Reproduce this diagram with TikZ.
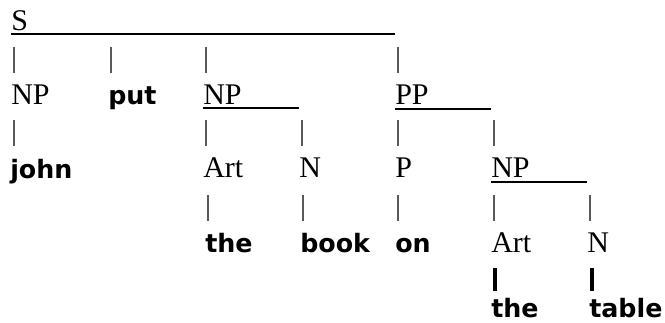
\documentclass[tikz,border=0pt]{standalone}
\usepackage{fontspec}
\setmainfont{Liberation Serif}
\newfontfamily\wordfont{DejaVu Sans}
\usetikzlibrary{calc}
\begin{document}
\begin{tikzpicture}[x=0.75pt,y=-0.75pt,
  cat/.style={anchor=base west,inner sep=0pt,font=\fontsize{22.5}{22.5}\selectfont},
  word/.style={anchor=base west,inner sep=0pt,font=\wordfont\bfseries\fontsize{19}{19}\selectfont},
  bar/.style={line width=1.5pt},
  pipe/.style={draw=black!65,line width=1pt},
  boldpipe/.style={line width=2.8pt}]
\useasboundingbox (0,0) rectangle (665,322);
% labels
\node[cat] (S) at (11,30) {S};
\node[cat] (np1) at (11,104) {NP};
\node[word] (put) at (108,104) {put};
\node[cat] (np2) at (203,104) {NP};
\node[cat] (pp) at (395,104) {PP};
\node[word] (john) at (10,178) {john};
\node[cat] (art1) at (203,177) {Art};
\node[cat] (n1) at (299,177) {N};
\node[cat] (p) at (395,177) {P};
\node[cat] (np3) at (491,177) {NP};
\node[word] (the1) at (205,252) {the};
\node[word] (book) at (300,252) {book};
\node[word] (on) at (395,252) {on};
\node[cat] (art2) at (491,252) {Art};
\node[cat] (n2) at (587,252) {N};
\node[word] (the2) at (491,317) {the};
\node[word] (table) at (589,317) {table};
% underlines
\coordinate (sL) at ($(S.base west)+(0,4)$);
\draw[bar] (sL) -- (sL -| pp.west);
\coordinate (np2L) at ($(np2.base west)+(0,4)$);
\draw[bar] (np2L) -- (np2L -| n1.west);
\coordinate (ppL) at ($(pp.base west)+(0,5)$);
\draw[bar] (ppL) -- (ppL -| np3.west);
\coordinate (np3L) at ($(np3.base west)+(0,5)$);
\draw[bar] (np3L) -- (np3L -| n2.west);
% pipes
\foreach \c in {np1,put,np2,pp,art1,n1,p,np3,the1,book,on,art2,n2}
  \draw[pipe] ($(\c.base west)+(3,-57)$) -- ($(\c.base west)+(3,-31)$);
\draw[pipe] ($(john.base west)+(4,-58)$) -- ($(john.base west)+(4,-32)$);
\draw[boldpipe] ($(the2.base west)+(4,-49)$) -- ($(the2.base west)+(4,-26)$);
\draw[boldpipe] ($(table.base west)+(3,-49)$) -- ($(table.base west)+(3,-26)$);
\end{tikzpicture}
\end{document}
